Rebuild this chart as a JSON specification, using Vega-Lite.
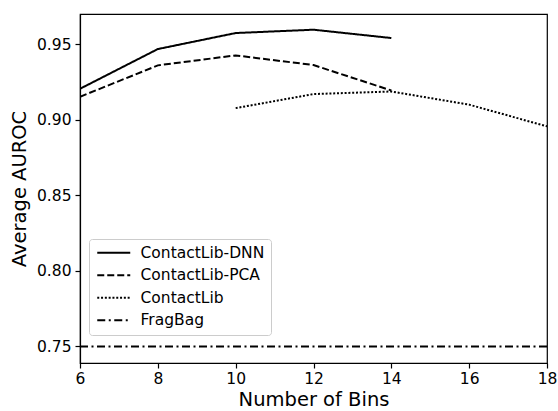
{
  "$schema": "https://vega.github.io/schema/vega-lite/v6.json",
  "width": 467,
  "height": 349,
  "autosize": {"type": "none"},
  "padding": {"left": 80, "top": 14, "right": 11, "bottom": 48},
  "background": "white",
  "config": {
    "font": "DejaVu Sans",
    "view": {"stroke": "black", "strokeWidth": 1.2},
    "axis": {
      "domainColor": "black",
      "domainWidth": 1.2,
      "tickColor": "black",
      "tickWidth": 1.2,
      "tickSize": 5,
      "labelFont": "DejaVu Sans",
      "labelFontSize": 15.5,
      "labelColor": "black",
      "labelFlush": false,
      "labelOverlap": false,
      "titleFont": "DejaVu Sans",
      "titleFontSize": 19.5,
      "titleFontWeight": "normal",
      "titleColor": "black",
      "grid": false
    }
  },
  "data": {
    "values": [
      {"bins": 6, "auroc": 0.9205, "method": "ContactLib-DNN"},
      {"bins": 8, "auroc": 0.9468, "method": "ContactLib-DNN"},
      {"bins": 10, "auroc": 0.9574, "method": "ContactLib-DNN"},
      {"bins": 12, "auroc": 0.9596, "method": "ContactLib-DNN"},
      {"bins": 14, "auroc": 0.9541, "method": "ContactLib-DNN"},
      {"bins": 6, "auroc": 0.9152, "method": "ContactLib-PCA"},
      {"bins": 8, "auroc": 0.9360, "method": "ContactLib-PCA"},
      {"bins": 10, "auroc": 0.9426, "method": "ContactLib-PCA"},
      {"bins": 12, "auroc": 0.9362, "method": "ContactLib-PCA"},
      {"bins": 14, "auroc": 0.9194, "method": "ContactLib-PCA"},
      {"bins": 10, "auroc": 0.9077, "method": "ContactLib"},
      {"bins": 12, "auroc": 0.9170, "method": "ContactLib"},
      {"bins": 14, "auroc": 0.9187, "method": "ContactLib"},
      {"bins": 16, "auroc": 0.9100, "method": "ContactLib"},
      {"bins": 18, "auroc": 0.8956, "method": "ContactLib"},
      {"bins": 6, "auroc": 0.75, "method": "FragBag"},
      {"bins": 18, "auroc": 0.75, "method": "FragBag"}
    ]
  },
  "mark": {"type": "line", "color": "black", "strokeWidth": 2, "clip": true},
  "encoding": {
    "x": {
      "field": "bins",
      "type": "quantitative",
      "title": "Number of Bins",
      "scale": {"domain": [6, 18], "nice": false, "zero": false},
      "axis": {"values": [6, 8, 10, 12, 14, 16, 18], "format": "d", "labelPadding": 3, "titlePadding": 4}
    },
    "y": {
      "field": "auroc",
      "type": "quantitative",
      "title": "Average AUROC",
      "scale": {"domain": [0.739, 0.970], "nice": false, "zero": false},
      "axis": {"values": [0.75, 0.80, 0.85, 0.90, 0.95], "format": ".2f", "labelPadding": 4, "titlePadding": 7}
    },
    "strokeDash": {
      "field": "method",
      "type": "nominal",
      "title": null,
      "scale": {
        "domain": ["ContactLib-DNN", "ContactLib-PCA", "ContactLib", "FragBag"],
        "range": [[1, 0], [7, 3], [2, 1.8], [8, 3.5, 2, 3.5]]
      },
      "legend": {
        "orient": "none",
        "legendX": 9,
        "legendY": 225,
        "padding": 6,
        "fillColor": "white",
        "strokeColor": "#cccccc",
        "cornerRadius": 3,
        "symbolType": "M-3,0H3",
        "symbolSize": 121,
        "symbolOffset": 11,
        "symbolStrokeWidth": 2,
        "symbolStrokeColor": "black",
        "labelOffset": 19,
        "labelFont": "DejaVu Sans",
        "labelFontSize": 15.5,
        "labelColor": "black",
        "rowPadding": 5.5,
        "labelLimit": 300
      }
    }
  }
}
